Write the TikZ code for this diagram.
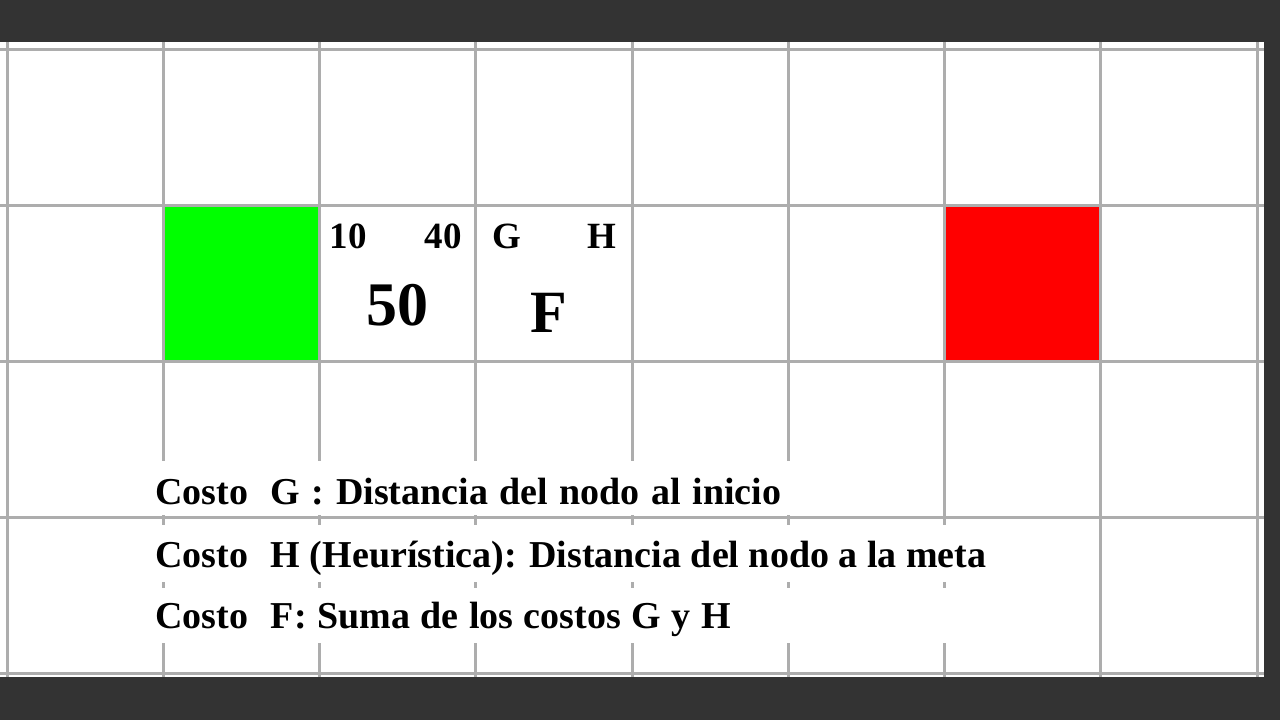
\documentclass[tikz,border=0pt]{standalone}
\usepackage{fontspec}
\setmainfont{Liberation Serif}
\definecolor{frame}{HTML}{333333}
\definecolor{gridc}{HTML}{ADADAD}
\definecolor{startc}{HTML}{00FF00}
\definecolor{goalc}{HTML}{FF0000}
\tikzset{
  gridline/.style={draw=gridc, line width=3pt},
  smalltxt/.style={font=\bfseries\fontsize{37}{37}\selectfont, inner sep=0pt, anchor=base},
  bigtxt/.style={font=\bfseries\fontsize{62}{62}\selectfont, inner sep=0pt, anchor=base},
  legend/.style={font=\bfseries\fontsize{38}{38}\selectfont, inner sep=0pt, anchor=base west},
  legendbox/.style={fill=white, draw=none}
}
\begin{document}
\begin{tikzpicture}[x=1pt, y=-1pt]
\useasboundingbox (0,0) rectangle (1280,720);
\fill[frame] (0,0) rectangle (1280,720);
\fill[white] (0,42) rectangle (1264,677);
% colored cells
\fill[startc] (163,205) rectangle (319,361);
\fill[goalc] (944,205) rectangle (1100,361);
% grid
\foreach \x in {7,163,319,475,632,788,944,1100,1257}
  \draw[gridline] (\x,42) -- (\x,677);
\foreach \y in {49,205,361,517,673}
  \draw[gridline] (0,\y) -- (1264,\y);
% legend boxes
\fill[legendbox] (145,461) rectangle (897,515);
\fill[legendbox] (145,525) rectangle (1000,582);
\fill[legendbox] (145,588) rectangle (1000,643);
% cell texts
\node[smalltxt] (g1) at (348,248) {10};
\node[smalltxt] (h1) at (443,248) {40};
\node[bigtxt] (f1) at (397,325) {50};
\node[smalltxt] (g2) at (507,248) {G};
\node[smalltxt] (h2) at (602,248) {H};
\node[bigtxt, font=\bfseries\fontsize{60}{60}\selectfont] (f2) at (549,332) {F};
% legend texts
\node[legend] (l1) at (155,504) {\spaceskip=11.5pt Costo\hspace{0.6em}G : Distancia del nodo al inicio};
\node[legend] (l2) at (155,567) {Costo\hspace{0.6em}H (Heurística): Distancia del nodo a la meta};
\node[legend] (l3) at (155,628) {\spaceskip=10.5pt Costo\hspace{0.6em}F: Suma de los costos G y H};
\end{tikzpicture}
\end{document}
